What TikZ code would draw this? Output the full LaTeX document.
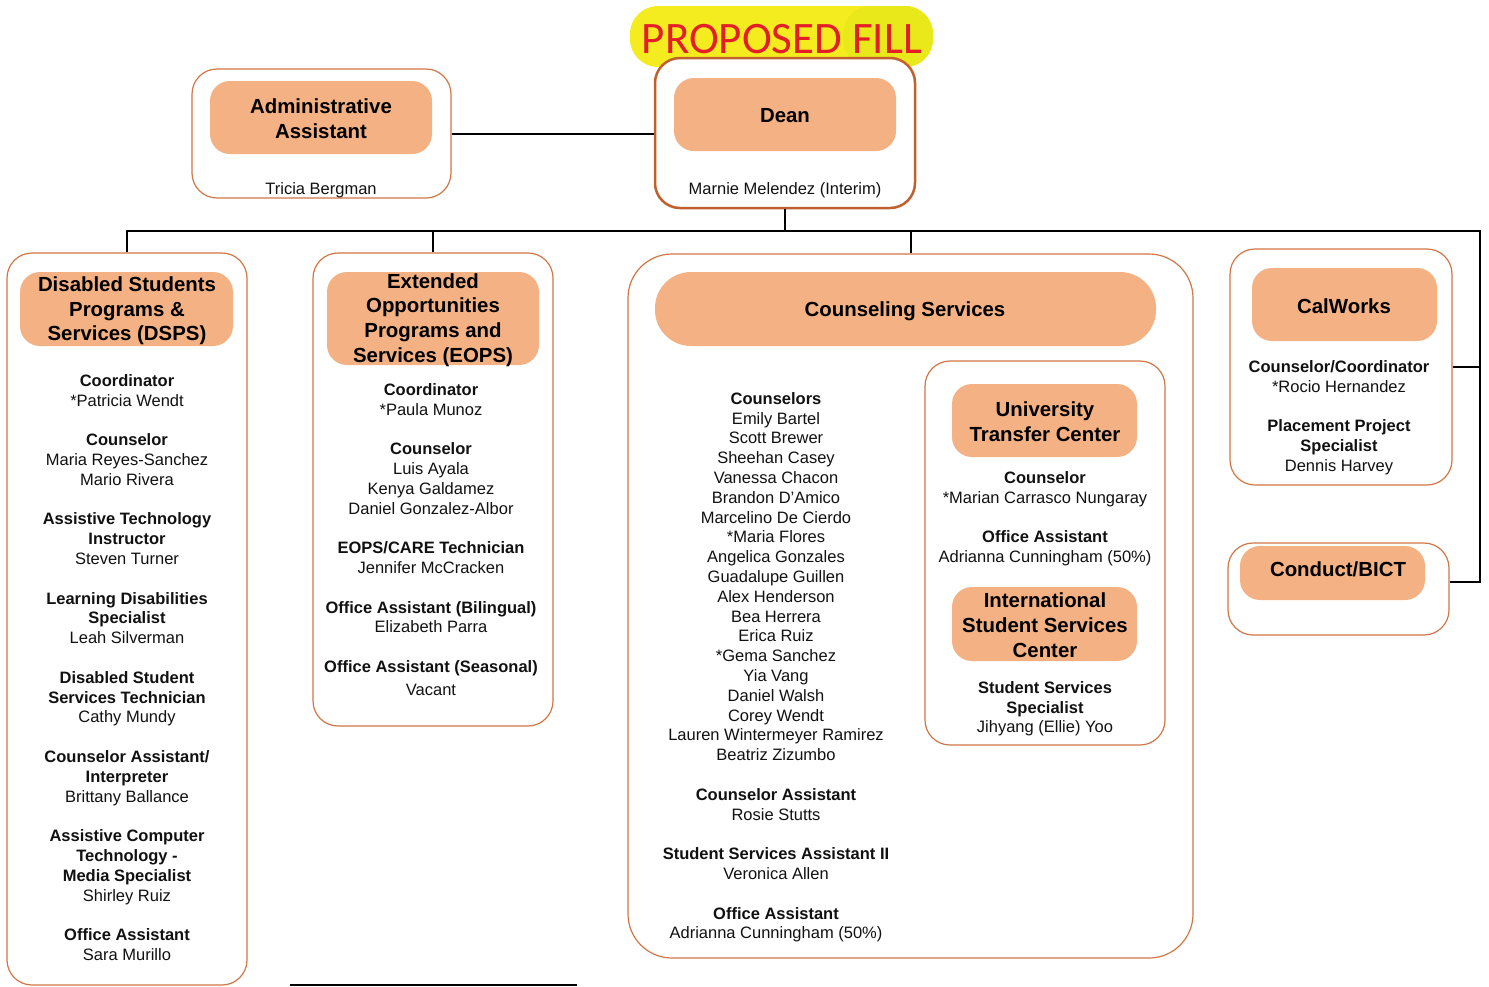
\documentclass[tikz,border=0pt]{standalone}
\usepackage{fontspec}
\setmainfont{Liberation Sans}
\newfontfamily\carl{Carlito}
\usetikzlibrary{fit}
\definecolor{hdrfill}{RGB}{244,177,131}
\definecolor{boxline}{RGB}{210,118,70}
\definecolor{deanline}{RGB}{192,96,45}
\definecolor{yel}{RGB}{245,236,32}
\definecolor{yeltwo}{RGB}{232,232,26}
\definecolor{redtxt}{RGB}{228,30,38}
\definecolor{txt}{RGB}{17,17,17}
\tikzset{
  outerbox/.style={draw=boxline, line width=0.6pt, rounded corners=12.5pt, fill=white, inner sep=0pt},
  hdrbox/.style={fill=hdrfill, rounded corners=10pt, inner sep=0pt},
  htext/.style={font=\fontsize{10.2}{12.35}\selectfont\bfseries, align=center, text=black, inner sep=0pt},
  bodytext/.style={font=\fontsize{8.25}{9.9}\selectfont, align=center, text=txt, inner sep=0pt, anchor=north,
     execute at begin node={\rule{0pt}{7pt}}},
  nametext/.style={font=\fontsize{8.25}{9.9}\selectfont, text=txt, inner sep=0pt},
  conn/.style={draw=black, line width=1pt},
}
\begin{document}
\begin{tikzpicture}[x=0.5pt,y=-0.5pt]
\useasboundingbox (0,0) rectangle (1489,986);
% proposed fill banner
\fill[yel, rounded corners=14pt] (630,6) rectangle (933,67);
\fill[yeltwo, rounded corners=14pt] (843,6) rectangle (933,67);
\node[font=\carl\fontsize{22.5}{27}\selectfont, text=redtxt, inner sep=0pt] (prop) at (782,39) {PROPOSED FILL};
% top boxes
\node[outerbox, fit={(192,69) (451,198)}] (adminO) {};
\node[hdrbox, fit={(210,81) (432,154)}] (adminH) {};
\node[htext] (adminT) at (321,119) {Administrative\\Assistant};
\node[nametext] (adminN) at (321,190) {Tricia Bergman};
\node[outerbox, draw=deanline, line width=1.25pt, fit={(655,58) (915,208)}] (deanO) {};
\node[hdrbox, fit={(674,78) (896,151)}] (deanH) {};
\node[htext] (deanT) at (785,116) {Dean};
\node[nametext] (deanN) at (785,190) {Marnie Melendez (Interim)};
% DSPS
\node[outerbox, fit={(7,253) (247,985)}] (dspsO) {};
\node[hdrbox, fit={(20,272) (233,346)}] (dspsH) {};
\node[htext] (dspsT) at (127,311) {Disabled Students\\Programs \&\\Services (DSPS)};
\node[bodytext] (dspsB) at (127,374) {\textbf{Coordinator}\\*Patricia Wendt\\[9.9pt]
\textbf{Counselor}\\Maria Reyes-Sanchez\\Mario Rivera\\[9.9pt]
\textbf{Assistive Technology}\\\textbf{Instructor}\\Steven Turner\\[9.9pt]
\textbf{Learning Disabilities}\\\textbf{Specialist}\\Leah Silverman\\[9.9pt]
\textbf{Disabled Student}\\\textbf{Services Technician}\\Cathy Mundy\\[9.9pt]
\textbf{Counselor Assistant/}\\\textbf{Interpreter}\\Brittany Ballance\\[9.9pt]
\textbf{Assistive Computer}\\\textbf{Technology -}\\\textbf{Media Specialist}\\Shirley Ruiz\\[9.9pt]
\textbf{Office Assistant}\\Sara Murillo};
% EOPS
\node[outerbox, fit={(313,253) (553,726)}] (eopsO) {};
\node[hdrbox, fit={(327,272) (539,365)}] (eopsH) {};
\node[htext] (eopsT) at (433,320) {Extended\\Opportunities\\Programs and\\Services (EOPS)};
\node[bodytext] (eopsB) at (431,383) {\textbf{Coordinator}\\*Paula Munoz\\[9.9pt]
\textbf{Counselor}\\Luis Ayala\\Kenya Galdamez\\Daniel Gonzalez-Albor\\[9.9pt]
\textbf{EOPS/CARE Technician}\\Jennifer McCracken\\[9.9pt]
\textbf{Office Assistant (Bilingual)}\\Elizabeth Parra\\[9.9pt]
\textbf{Office Assistant (Seasonal)}\\[1.5pt]Vacant};
% Counseling
\node[outerbox, rounded corners=22pt, fit={(628,254) (1193,958)}] (counsO) {};
\node[hdrbox, rounded corners=18pt, fit={(655,272) (1156,346)}] (counsH) {};
\node[htext] (counsT) at (905,311) {Counseling Services};
\node[bodytext] (counsB) at (776,392) {\textbf{Counselors}\\Emily Bartel\\Scott Brewer\\Sheehan Casey\\Vanessa Chacon\\Brandon D’Amico\\Marcelino De Cierdo\\*Maria Flores\\Angelica Gonzales\\Guadalupe Guillen\\Alex Henderson\\Bea Herrera\\Erica Ruiz\\*Gema Sanchez\\Yia Vang\\Daniel Walsh\\Corey Wendt\\Lauren Wintermeyer Ramirez\\Beatriz Zizumbo\\[9.9pt]
\textbf{Counselor Assistant}\\Rosie Stutts\\[9.9pt]
\textbf{Student Services Assistant II}\\Veronica Allen\\[9.9pt]
\textbf{Office Assistant}\\Adrianna Cunningham (50\%)};
% UTC / ISS
\node[outerbox, fit={(925,361) (1165,745)}] (utcO) {};
\node[hdrbox, fit={(952,384) (1137,457)}] (utcH) {};
\node[htext] (utcT) at (1045,422) {University\\Transfer Center};
\node[bodytext] (utcB) at (1045,471) {\textbf{Counselor}\\*Marian Carrasco Nungaray\\[9.9pt]
\textbf{Office Assistant}\\Adrianna Cunningham (50\%)};
\node[hdrbox, fit={(952,587) (1137,661)}] (issH) {};
\node[htext] (issT) at (1045,625) {International\\Student Services\\Center};
\node[bodytext] (issB) at (1045,681) {\textbf{Student Services}\\\textbf{Specialist}\\Jihyang (Ellie) Yoo};
% CalWorks
\node[outerbox, fit={(1230,249) (1452,485)}] (calO) {};
\node[hdrbox, fit={(1252,268) (1437,341)}] (calH) {};
\node[htext] (calT) at (1344,306) {CalWorks};
\node[bodytext] (calB) at (1339,360) {\textbf{Counselor/Coordinator}\\*Rocio Hernandez\\[9.9pt]
\textbf{Placement Project}\\\textbf{Specialist}\\Dennis Harvey};
% Conduct
\node[outerbox, fit={(1228,543) (1449,635)}] (condO) {};
\node[hdrbox, fit={(1240,546) (1425,600)}] (condH) {};
\node[htext] (condT) at (1338,569) {Conduct/BICT};
% connectors
\coordinate (busL) at (127,231);
\coordinate (busR) at (1480,231);
\coordinate (condIn) at ([yshift=3.5pt]condO.east);
\coordinate (bl1) at (290,985);
\coordinate (bl2) at (577,985);
\draw[conn] (adminO.east) -- (adminO.east -| deanO.west);
\draw[conn] (deanO.south) -- (deanO.south |- busL);
\draw[conn] (dspsO.north) -- (dspsO.north |- busL) -- (busR) -- (busR |- condIn) -- (condIn);
\draw[conn] (eopsO.north) -- (eopsO.north |- busL);
\draw[conn] (counsO.north) -- (counsO.north |- busL);
\draw[conn] (calO.east) -- (calO.east -| busR);
\draw[conn, line width=0.75pt] (bl1) -- (bl2);
\end{tikzpicture}
\end{document}
